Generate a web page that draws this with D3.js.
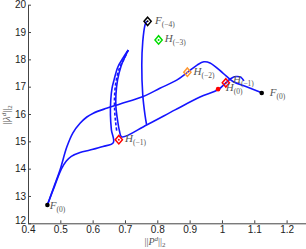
<!DOCTYPE html>
<html>
<head>
<meta charset="utf-8">
<script src="https://cdn.jsdelivr.net/npm/d3@7"></script>
<style>
  body { margin: 0; background: #fff; }
  svg { display: block; }
  .tick text { font-family: "Liberation Sans", Arial, sans-serif; font-size: 10px; fill: #222; }
  .lbl { font-family: "Liberation Serif", "DejaVu Serif", serif; fill: #555; }
</style>
</head>
<body>
<div id="container"></div>
<script>
// tick labels
const xTicks = [0.4, 0.5, 0.6, 0.7, 0.8, 0.9, 1, 1.1, 1.2];
const yTicks = [12, 13, 14, 15, 16, 17, 18, 19, 20];

// upper path, F(0) left -> F(0) right
const pathAx = [0.46, 0.48, 0.499, 0.52, 0.539, 0.561, 0.582, 0.602, 0.643, 0.685, 0.756, 0.808, 0.86, 0.893, 0.923, 0.944, 0.963, 1.003, 1.034, 1.076, 1.123];
const pathAy = [12.67, 13.33, 13.95, 14.79, 15.31, 15.66, 15.89, 16.03, 16.21, 16.37, 16.64, 16.94, 17.24, 17.52, 17.79, 17.91, 17.87, 17.50, 17.19, 17.00, 16.78];

// lower path from F(0) left, turning up into the bundle
const pathBx = [0.46, 0.482, 0.503, 0.518, 0.534, 0.561, 0.592, 0.632, 0.664, 0.658, 0.655, 0.656, 0.66, 0.666, 0.678, 0.694, 0.71];
const pathBy = [12.67, 13.35, 13.98, 14.27, 14.45, 14.59, 14.68, 14.81, 14.95, 15.42, 15.96, 16.51, 16.95, 17.24, 17.72, 18.05, 18.34];

// dashed branch inside the bundle
const pathDx = [0.71, 0.697, 0.683, 0.672, 0.668, 0.668, 0.671, 0.675];
const pathDy = [18.34, 18.01, 17.68, 17.17, 16.70, 16.15, 15.71, 15.34];

// right branch of the bundle, then diagonal up to H(0)
const pathCx = [0.71, 0.70, 0.688, 0.677, 0.672, 0.672, 0.677, 0.683, 0.69, 0.767, 0.855, 0.932, 0.988, 1.012, 1.028, 1.043, 1.059, 1.068];
const pathCy = [18.34, 18.09, 17.76, 17.24, 16.70, 16.26, 15.78, 15.38, 15.16, 15.60, 16.15, 16.62, 16.89, 17.14, 17.30, 17.37, 17.34, 17.21];

// branch from F(-4) down to the diagonal
const pathEx = [0.767, 0.762, 0.755, 0.752, 0.755, 0.762, 0.767];
const pathEy = [19.40, 19.26, 18.65, 17.79, 16.70, 15.96, 15.60];

// markers
const dotX = [0.46, 1.123, 0.988];
const dotY = [12.67, 16.77, 16.91];
const dotC = ["#000", "#000", "#f00"];
const diaX = [0.77, 0.804, 0.893, 0.681, 1.012];
const diaY = [19.39, 18.71, 17.53, 15.06, 17.14];
const diaC = ["#000", "#0d0", "#f93", "#f00", "#f00"];

// annotations: letter, subscript, anchor point (data)
const labL = ["F", "H", "H", "H", "H", "F", "F", "H"];
const labS = ["(\u22124)", "(\u22123)", "(\u22122)", "(\u22121)", "(0)", "(0)", "(0)", "(\u22121)"];
const labX = [0.793, 0.823, 0.912, 1.034, 1.012, 1.148, 0.467, 0.700];
const labY = [19.30, 18.64, 17.42, 17.13, 16.85, 16.67, 12.54, 14.98];

const W = 306, H = 249;
const m = { left: 28, right: 306, top: 4.7, bottom: 223.3 };

const x = d3.scaleLinear().domain([0.4, 1.26]).range([m.left, m.right]);
const y = d3.scaleLinear().domain([12, 20]).range([m.bottom, m.top]);

const svg = d3.select("#container").append("svg")
  .attr("width", W).attr("height", H);

const xAxis = d3.axisBottom(x).tickValues(xTicks).tickFormat(d => String(+d.toFixed(1)))
  .tickSizeInner(-3).tickSizeOuter(0).tickPadding(3);
const yAxis = d3.axisLeft(y).tickValues(yTicks).tickFormat(d3.format("d"))
  .tickSizeInner(-3).tickSizeOuter(0).tickPadding(2);

const gx = svg.append("g").attr("transform", "translate(0," + m.bottom + ")").call(xAxis);
const gy = svg.append("g").attr("transform", "translate(" + m.left + ",0)").call(yAxis);
[gx, gy].forEach(g => {
  g.select(".domain").attr("stroke", "#444");
  g.selectAll(".tick line").attr("stroke", "#444");
});
// bottom y label sits a bit higher so it clears "0.4"
gy.selectAll(".tick text").filter(d => d === 12).attr("dy", "0.05em");

const line = d3.line().x(d => x(d[0])).y(d => y(d[1])).curve(d3.curveCatmullRom.alpha(0.5));
const zip = (a, b) => a.map((v, i) => [v, b[i]]);

const paths = [
  { d: zip(pathAx, pathAy), dash: null },
  { d: zip(pathBx, pathBy), dash: null },
  { d: zip(pathCx, pathCy), dash: null },
  { d: zip(pathEx, pathEy), dash: null },
  { d: zip(pathDx, pathDy), dash: "3,2" }
];

svg.selectAll("path.curve")
  .data(paths)
  .enter()
  .append("path")
  .attr("class", "curve")
  .attr("d", p => line(p.d))
  .attr("fill", "none")
  .attr("stroke", "#1515ff")
  .attr("stroke-width", 1.6)
  .attr("stroke-dasharray", p => p.dash);

svg.selectAll("circle.dot")
  .data(dotX)
  .enter()
  .append("circle")
  .attr("cx", d => x(d))
  .attr("cy", (d, i) => y(dotY[i]))
  .attr("r", 2.3)
  .attr("fill", (d, i) => dotC[i]);

const dia = svg.selectAll("g.dia")
  .data(diaX)
  .enter()
  .append("g")
  .attr("transform", (d, i) => "translate(" + x(d) + "," + y(diaY[i]) + ")");
dia.append("path")
  .attr("d", "M0,-4.2L3.6,0L0,4.2L-3.6,0Z")
  .attr("fill", "none")
  .attr("stroke", (d, i) => diaC[i])
  .attr("stroke-width", 1.5);
dia.append("circle")
  .attr("r", 1)
  .attr("fill", (d, i) => diaC[i]);

const lab = svg.selectAll("text.lbl")
  .data(labL)
  .enter()
  .append("text")
  .attr("class", "lbl")
  .attr("x", (d, i) => x(labX[i]))
  .attr("y", (d, i) => y(labY[i]));
lab.append("tspan")
  .style("font-style", "italic")
  .style("font-size", "11px")
  .text(d => d);
lab.append("tspan")
  .style("font-size", "7.5px")
  .attr("dy", 3)
  .text((d, i) => labS[i]);

// axis labels
const xl = svg.append("text").attr("class", "lbl")
  .attr("x", 155).attr("y", 245).attr("text-anchor", "middle").style("font-size", "10px");
xl.append("tspan").text("||");
xl.append("tspan").style("font-style", "italic").text("P");
xl.append("tspan").style("font-style", "italic").style("font-size", "7px").attr("dy", -4).text("d");
xl.append("tspan").attr("dy", 4).text("||");
xl.append("tspan").style("font-size", "7px").attr("dy", 2).text("2");

const yl = svg.append("text").attr("class", "lbl")
  .attr("transform", "translate(10,115) rotate(-90)").attr("text-anchor", "middle").style("font-size", "10px");
yl.append("tspan").text("||");
yl.append("tspan").style("font-style", "italic").text("\u03bb");
yl.append("tspan").style("font-style", "italic").style("font-size", "7px").attr("dy", -4).text("d");
yl.append("tspan").attr("dy", 4).text("||");
yl.append("tspan").style("font-size", "7px").attr("dy", 2).text("2");
</script>
</body>
</html>
